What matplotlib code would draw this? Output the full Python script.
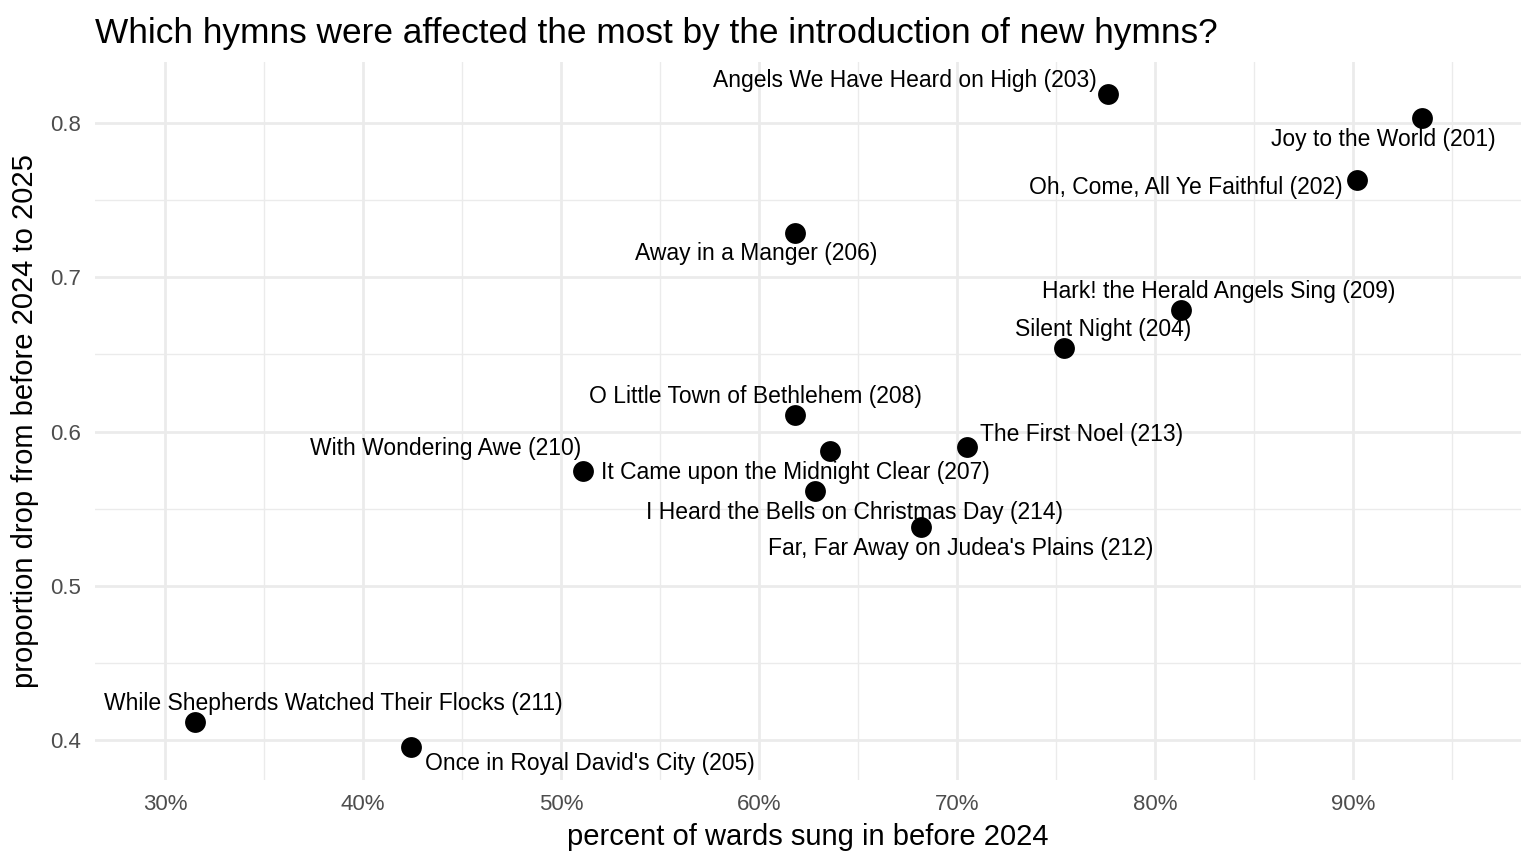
import matplotlib
matplotlib.use("Agg")
import matplotlib.pyplot as plt
from matplotlib.ticker import FuncFormatter, MultipleLocator

# hymn data
hymns = [
    "Joy to the World (201)",
    "Oh, Come, All Ye Faithful (202)",
    "Angels We Have Heard on High (203)",
    "Silent Night (204)",
    "Once in Royal David's City (205)",
    "Away in a Manger (206)",
    "It Came upon the Midnight Clear (207)",
    "O Little Town of Bethlehem (208)",
    "Hark! the Herald Angels Sing (209)",
    "With Wondering Awe (210)",
    "While Shepherds Watched Their Flocks (211)",
    "Far, Far Away on Judea's Plains (212)",
    "The First Noel (213)",
    "I Heard the Bells on Christmas Day (214)",
]
pct_wards = [0.935, 0.902, 0.776, 0.754, 0.424, 0.618, 0.636, 0.618,
             0.813, 0.511, 0.315, 0.682, 0.705, 0.628]
prop_drop = [0.803, 0.763, 0.819, 0.654, 0.3956, 0.729, 0.5874, 0.611,
             0.679, 0.5745, 0.4118, 0.538, 0.590, 0.5615]

# label offsets in pixels (dx, dy), like ggrepel placement
offsets = [(-39, -21), (-171, -7), (-203, 13), (39, 19), (179, -17),
           (-39, -21), (-35, -21), (-39, 18), (38, 18), (-137, 22),
           (139, 18), (39, -21), (115, 13), (40, -22)]

plt.rcParams["font.family"] = ["Liberation Sans", "DejaVu Sans"]

fig = plt.figure(figsize=(15.36, 8.64), dpi=100)
ax = fig.add_axes([95 / 1536, 1 - 780 / 864, (1521 - 95) / 1536, (780 - 62) / 864])

ax.scatter(pct_wards, prop_drop, s=225, color="black", zorder=3, linewidths=0)
for name, x, y, (dx, dy) in zip(hymns, pct_wards, prop_drop, offsets):
    ax.annotate(name, (x, y), xytext=(dx, dy), textcoords="offset pixels",
                ha="center", va="center", fontsize=16.5, color="black", zorder=4)

ax.set_xlim(0.2646, 0.9848)
ax.set_ylim(0.3742, 0.8395)
ax.xaxis.set_major_locator(MultipleLocator(0.1))
ax.xaxis.set_minor_locator(MultipleLocator(0.05))
ax.yaxis.set_major_locator(MultipleLocator(0.1))
ax.yaxis.set_minor_locator(MultipleLocator(0.05))
ax.xaxis.set_major_formatter(FuncFormatter(lambda v, p: f"{v * 100:.0f}%"))
ax.yaxis.set_major_formatter(FuncFormatter(lambda v, p: f"{v:.1f}"))

ax.grid(which="major", color="#EBEBEB", linewidth=2.0, zorder=0)
ax.grid(which="minor", color="#EBEBEB", linewidth=1.0, zorder=0)
ax.set_axisbelow(True)
for sp in ax.spines.values():
    sp.set_visible(False)
ax.tick_params(which="both", length=0)
ax.tick_params(axis="both", labelsize=16, labelcolor="#4D4D4D")
ax.tick_params(axis="x", pad=10)
ax.tick_params(axis="y", pad=10)

ax.set_xlabel("percent of wards sung in before 2024", fontsize=21, labelpad=6)
ax.set_ylabel("proportion drop from before 2024 to 2025", fontsize=21, labelpad=8)
ax.set_title("Which hymns were affected the most by the introduction of new hymns?",
             fontsize=25.4, loc="left", pad=14)

fig.savefig("out.png", dpi=100)
